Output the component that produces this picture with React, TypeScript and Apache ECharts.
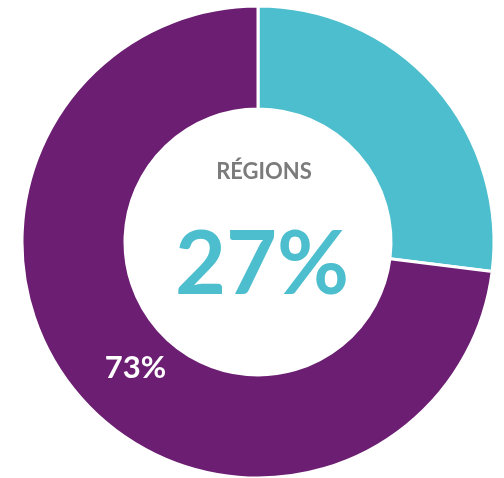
import React, { useEffect, useRef } from "react";
import * as echarts from "echarts";

const categories = ["Régions", "Autres"];
const values = [27, 73];
const colors = ["#4dbecd", "#6c1f72"];
const centerTitle = "RÉGIONS";

export default function App() {
  const ref = useRef<HTMLDivElement>(null);
  useEffect(() => {
    if (!ref.current) return;
    const chart = echarts.init(ref.current, null, { renderer: "svg" });
    const total = values.reduce((a, b) => a + b, 0);
    chart.setOption({
      animation: false,
      graphic: [
        {
          type: "text",
          x: 264,
          y: 170,
          style: {
            text: centerTitle,
            fill: "#7b7b7b",
            font: "bold 22px Lato",
            align: "center",
            verticalAlign: "middle",
          },
        },
        {
          type: "text",
          x: 262,
          y: 260,
          style: {
            text: Math.round((values[0] / total) * 100) + "%",
            fill: colors[0],
            font: "bold 88px Lato",
            align: "center",
            verticalAlign: "middle",
          },
        },
      ],
      series: [
        {
          type: "pie",
          center: [258, 242],
          radius: [133, 236],
          startAngle: 90,
          clockwise: true,
          silent: true,
          itemStyle: { borderColor: "#ffffff", borderWidth: 3 },
          labelLine: { show: false },
          data: categories.map((name, i) => ({
            name,
            value: values[i],
            itemStyle: { color: colors[i] },
            label:
              i === 0
                ? { show: false }
                : {
                    show: true,
                    position: "inside",
                    formatter: "{d}%",
                    color: "#ffffff",
                    fontFamily: "Lato",
                    fontWeight: "bold",
                    fontSize: 31,
                    padding: [10, 0, 0, 36],
                  },
          })),
        },
      ],
    });
    return () => chart.dispose();
  }, []);
  return (
    <div
      ref={ref}
      style={{ position: "fixed", left: 0, top: 0, width: 504, height: 478 }}
    />
  );
}
